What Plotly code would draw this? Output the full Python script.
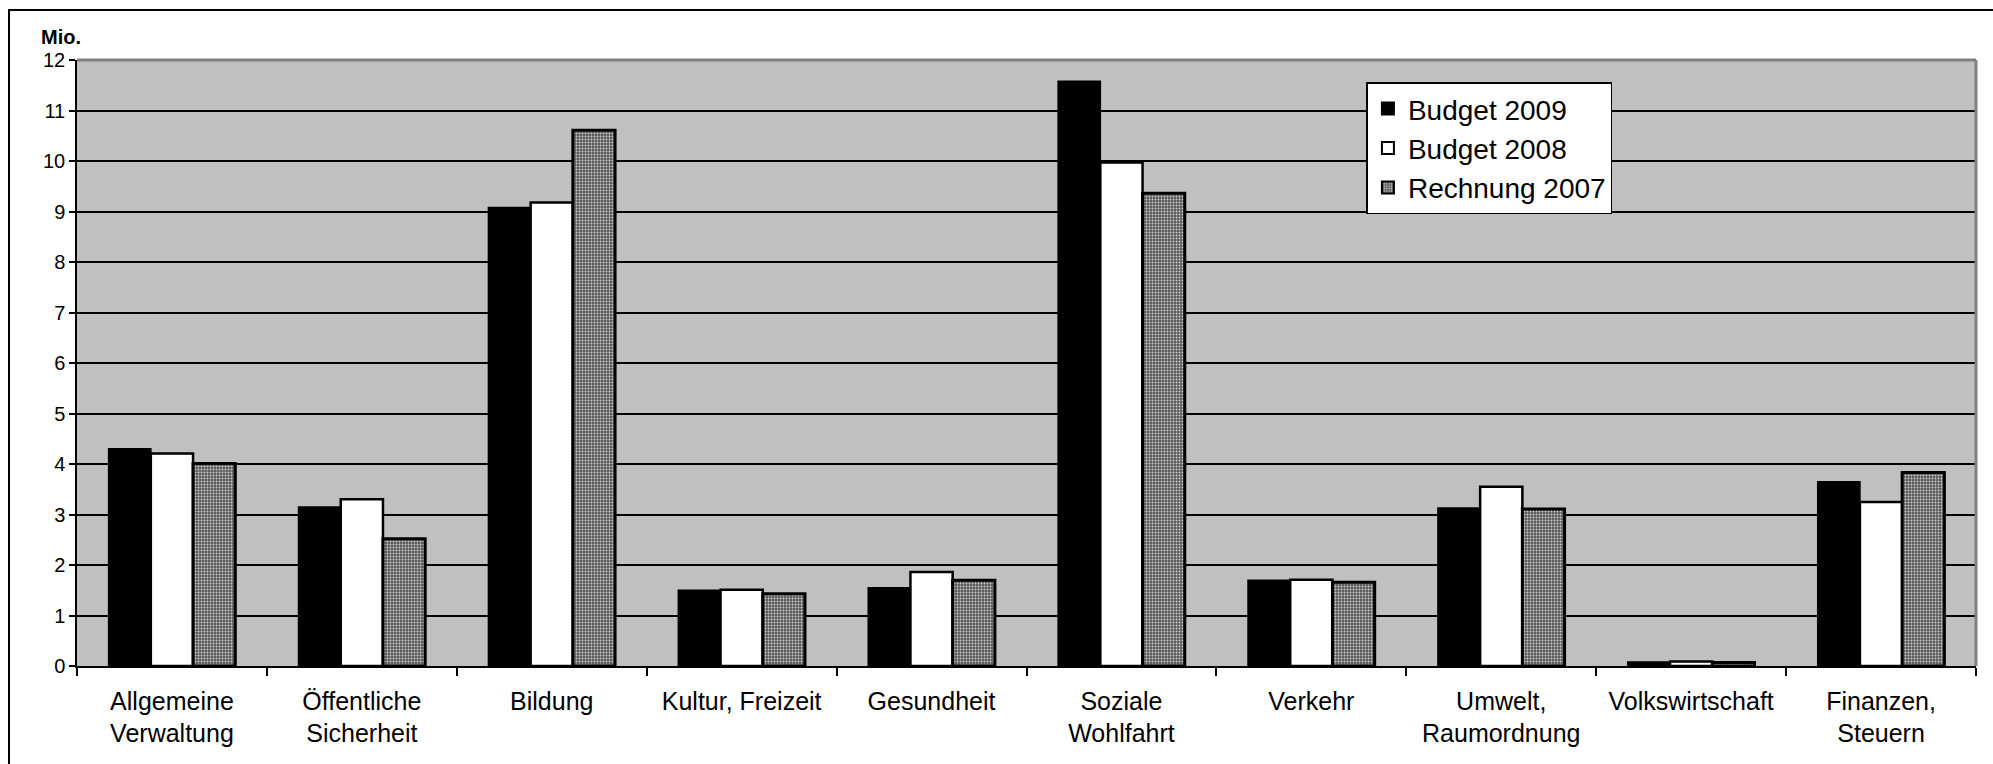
import plotly.graph_objects as go

categories = [
    "Allgemeine<br>Verwaltung",
    "Öffentliche<br>Sicherheit",
    "Bildung",
    "Kultur, Freizeit",
    "Gesundheit",
    "Soziale<br>Wohlfahrt",
    "Verkehr",
    "Umwelt,<br>Raumordnung",
    "Volkswirtschaft",
    "Finanzen,<br>Steuern",
]

budget_2009 = [4.30, 3.15, 9.08, 1.50, 1.55, 11.58, 1.70, 3.13, 0.08, 3.65]
budget_2008 = [4.21, 3.30, 9.18, 1.51, 1.86, 9.97, 1.71, 3.55, 0.09, 3.25]
rechnung_2007 = [4.01, 2.52, 10.61, 1.43, 1.70, 9.36, 1.66, 3.11, 0.07, 3.83]

y_ticks = list(range(0, 13))

FONT = "Liberation Sans, Arial, sans-serif"

fig = go.Figure()
fig.add_trace(go.Bar(
    name="Budget 2009", x=categories, y=budget_2009,
    marker=dict(color="#000000", line=dict(color="#000000", width=1.5)),
))
fig.add_trace(go.Bar(
    name="Budget 2008", x=categories, y=budget_2008,
    marker=dict(color="#ffffff", line=dict(color="#000000", width=2.5)),
))
fig.add_trace(go.Bar(
    name="Rechnung 2007", x=categories, y=rechnung_2007,
    marker=dict(
        color="#6a6a6a",
        line=dict(color="#000000", width=3),
        pattern=dict(shape=".", bgcolor="#5a5a5a", fgcolor="#d0d0d0",
                     size=3, solidity=0.3, fillmode="replace"),
    ),
))

fig.update_layout(
    width=1993, height=764,
    margin=dict(l=77, r=17, t=60, b=98),
    paper_bgcolor="#ffffff",
    plot_bgcolor="#c0c0c0",
    barmode="group",
    bargap=0.333,
    bargroupgap=0,
    font=dict(family=FONT, color="#000000"),
    showlegend=True,
    legend=dict(
        x=0.679, y=0.963, xanchor="left", yanchor="top",
        bgcolor="#ffffff", bordercolor="#000000", borderwidth=1.5,
        font=dict(size=28, family=FONT, color="#000000"),
        tracegroupgap=6, itemsizing="constant", itemwidth=30,
    ),
    xaxis=dict(
        showline=True, linecolor="#000000", linewidth=1.5,
        ticks="outside", ticklen=8, tickcolor="#000000", tickwidth=1.5,
        tickson="boundaries", ticklabelstandoff=12,
        tickfont=dict(size=25, family=FONT, color="#000000"),
        showgrid=False,
    ),
    yaxis=dict(
        range=[0, 12], tickvals=y_ticks, ticktext=[str(v) for v in y_ticks],
        showline=True, linecolor="#000000", linewidth=1.5,
        ticks="outside", ticklen=6, tickcolor="#000000", tickwidth=1.5,
        tickfont=dict(size=20, family=FONT, color="#000000"),
        showgrid=True, gridcolor="#000000", gridwidth=1.5,
        zeroline=False,
    ),
)

# gray frame on the top and right side of the plotting area
fig.add_shape(type="line", xref="paper", yref="paper", x0=0, x1=1, y0=1, y1=1,
              line=dict(color="#808080", width=3))
fig.add_shape(type="line", xref="paper", yref="paper", x0=1, x1=1, y0=0, y1=1,
              line=dict(color="#808080", width=3))

# outer chart border
fig.add_shape(type="rect", xref="paper", yref="paper",
              x0=-68 / 1899, x1=1.2, y0=656 / 606, y1=-0.5,
              line=dict(color="#000000", width=2), layer="above")

fig.add_annotation(text="<b>Mio.</b>", xref="paper", yref="paper",
                   x=-38 / 1899, y=1.0 + 10 / 606, xanchor="left", yanchor="bottom",
                   showarrow=False, font=dict(size=20, family=FONT, color="#000000"))

fig.write_html("out.html")
